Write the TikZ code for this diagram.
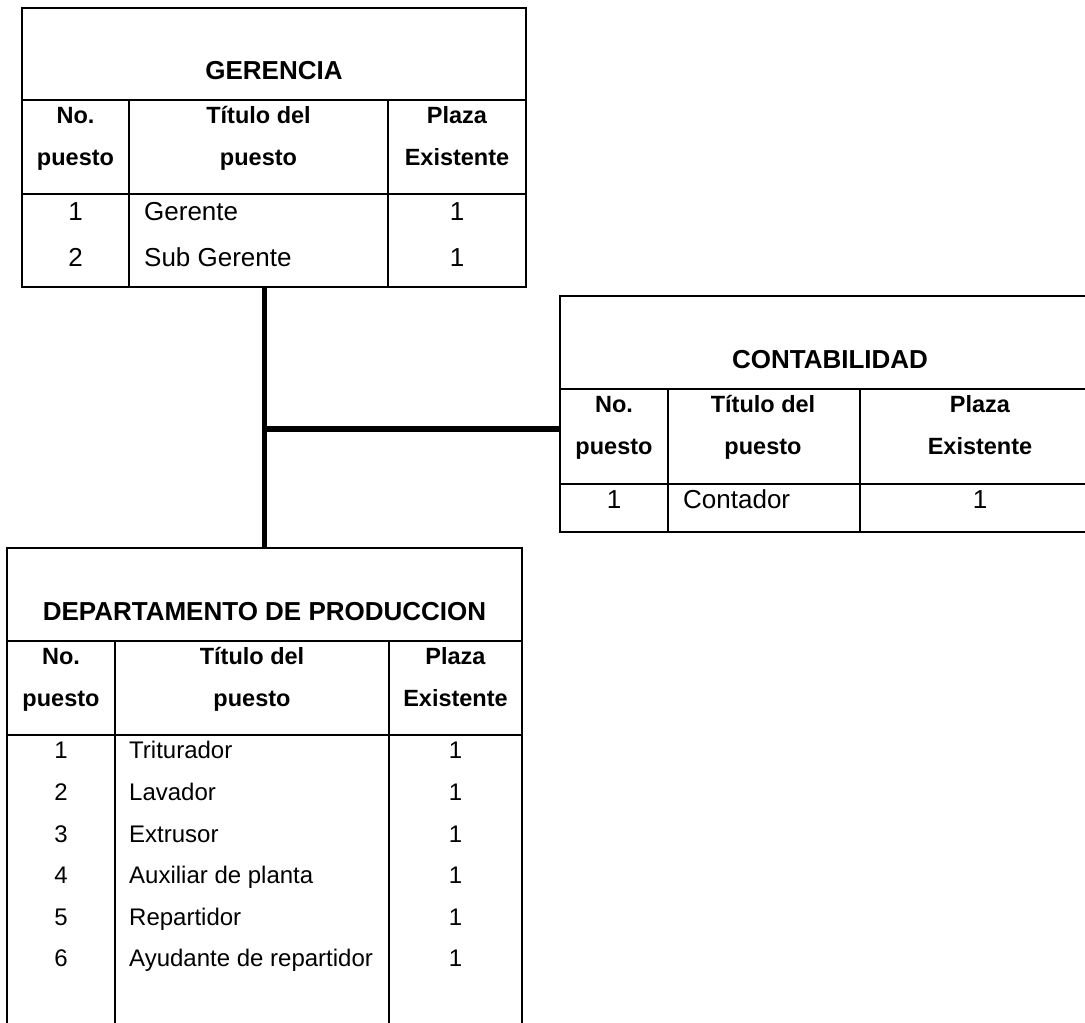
\documentclass[tikz,border=0pt]{standalone}
\usepackage{fontspec}
\setmainfont{Liberation Sans}
\begin{document}
\begin{tikzpicture}[x=1pt,y=-1pt,
  frame/.style={draw, line width=2pt, outer sep=0pt, inner sep=0pt, anchor=north west},
  rule/.style={line width=2pt},
  conn/.style={line width=5.5pt},
  ttl/.style={anchor=base, inner sep=0pt, font=\bfseries\fontsize{26}{30}\selectfont},
  hd/.style={anchor=base, inner sep=0pt, font=\bfseries\fontsize{23.5}{28}\selectfont},
  cell/.style={anchor=base, inner sep=0pt, font=\fontsize{26}{30}\selectfont},
  celll/.style={cell, anchor=base west},
  dcell/.style={anchor=base, inner sep=0pt, font=\fontsize{24}{28}\selectfont},
  dcelll/.style={dcell, anchor=base west}]
\useasboundingbox (0,0) rectangle (1085,1023);
\clip (0,0) rectangle (1085,1023);
\fill[white] (0,0) rectangle (1085,1023);

% ---------- GERENCIA ----------
\node[frame, minimum width=504pt, minimum height=279pt] (ger) at (22,8) {};
\draw[rule] (22,100) -- (526,100);
\draw[rule] (22,194) -- (526,194);
\draw[rule] (129,100) -- (129,287);
\draw[rule] (388,100) -- (388,287);
\node[ttl] (g-t) at (274,79) {GERENCIA};
\node[hd] (g-h1a) at (75.5,123) {No.};
\node[hd] (g-h1b) at (75.5,165) {puesto};
\node[hd] (g-h2a) at (258.5,123) {Título del};
\node[hd] (g-h2b) at (258.5,165) {puesto};
\node[hd] (g-h3a) at (457,123) {Plaza};
\node[hd] (g-h3b) at (457,165) {Existente};
\node[cell] (g-n1) at (75.5,220) {1};
\node[celll] (g-p1) at (144,220) {Gerente};
\node[cell] (g-c1) at (457,220) {1};
\node[cell] (g-n2) at (75.5,266) {2};
\node[celll] (g-p2) at (144,266) {Sub Gerente};
\node[cell] (g-c2) at (457,266) {1};

% ---------- CONTABILIDAD ----------
\node[frame, minimum width=540pt, minimum height=236pt] (cont) at (560,296) {};
\draw[rule] (560,389) -- (1100,389);
\draw[rule] (560,484) -- (1100,484);
\draw[rule] (668,389) -- (668,532);
\draw[rule] (860,389) -- (860,532);
\node[ttl] (c-t) at (830,368) {CONTABILIDAD};
\node[hd] (c-h1a) at (614,412) {No.};
\node[hd] (c-h1b) at (614,454) {puesto};
\node[hd] (c-h2a) at (763,412) {Título del};
\node[hd] (c-h2b) at (763,454) {puesto};
\node[hd] (c-h3a) at (980,412) {Plaza};
\node[hd] (c-h3b) at (980,454) {Existente};
\node[cell] (c-n1) at (614,508) {1};
\node[celll] (c-p1) at (683,508) {Contador};
\node[cell] (c-c1) at (980,508) {1};

% ---------- DEPARTAMENTO DE PRODUCCION ----------
\node[frame, minimum width=515pt, minimum height=500pt] (dep) at (7,548) {};
\draw[rule] (7,641) -- (522,641);
\draw[rule] (7,735) -- (522,735);
\draw[rule] (115,641) -- (115,1048);
\draw[rule] (389,641) -- (389,1048);
\node[ttl] (d-t) at (264.5,620) {DEPARTAMENTO DE PRODUCCION};
\node[hd] (d-h1a) at (61,664) {No.};
\node[hd] (d-h1b) at (61,706) {puesto};
\node[hd] (d-h2a) at (252,664) {Título del};
\node[hd] (d-h2b) at (252,706) {puesto};
\node[hd] (d-h3a) at (455.5,664) {Plaza};
\node[hd] (d-h3b) at (455.5,706) {Existente};
\foreach \n/\y/\txt in {1/758/Triturador, 2/800/Lavador, 3/842/Extrusor,
                        4/883/Auxiliar de planta, 5/925/Repartidor,
                        6/966/Ayudante de repartidor} {
  \node[dcell] (d-n\n) at (61,\y) {\n};
  \node[dcelll] (d-p\n) at (129,\y) {\txt};
  \node[dcell] (d-c\n) at (455.5,\y) {1};
}

% ---------- connectors ----------
\coordinate (hub) at (264.5,429);
\draw[conn] (hub |- ger.south) -- (hub |- dep.north);
\draw[conn] (hub) -- (hub -| cont.west);
\end{tikzpicture}
\end{document}
